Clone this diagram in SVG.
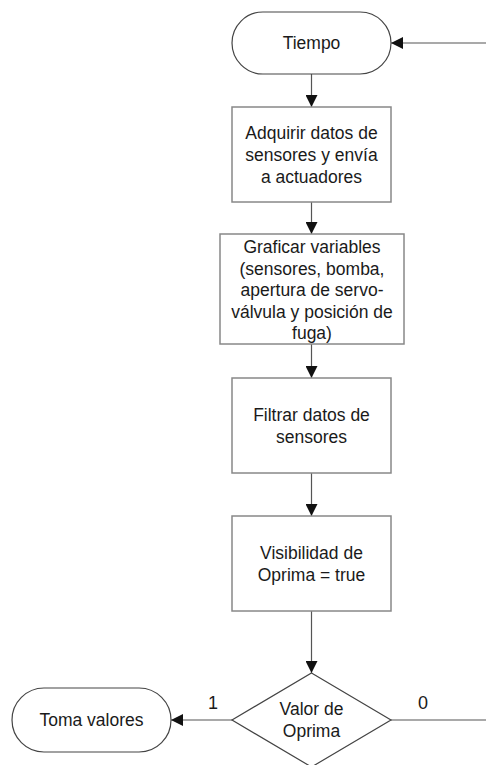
<svg xmlns="http://www.w3.org/2000/svg" width="486" height="765" viewBox="0 0 486 765">
<style>
.term{fill:#fff;stroke:#444;stroke-width:1.2}
.box{fill:#fff;stroke:#888;stroke-width:1.5}
.dia{fill:#fff;stroke:#444;stroke-width:1.2}
.t{font-family:"Liberation Sans",Arial,sans-serif;font-size:17.5px;fill:#1a1a1a;text-anchor:middle;dominant-baseline:central}
.c{fill:none;stroke:#555;stroke-width:1.2}
</style>
<defs>
<marker id="ah" markerWidth="12" markerHeight="12" refX="12" refY="6" orient="auto" markerUnits="userSpaceOnUse">
<path d="M0,0 L12,6 L0,12 Z" fill="#111"/>
</marker>
</defs>
<g id="connectors">
<line class="c" x1="486" y1="43" x2="391" y2="43" marker-end="url(#ah)"/>
<line class="c" x1="311.5" y1="74" x2="311.5" y2="107" marker-end="url(#ah)"/>
<line class="c" x1="311.5" y1="202" x2="311.5" y2="234" marker-end="url(#ah)"/>
<line class="c" x1="311.5" y1="344" x2="311.5" y2="378" marker-end="url(#ah)"/>
<line class="c" x1="311.5" y1="473" x2="311.5" y2="516" marker-end="url(#ah)"/>
<line class="c" x1="311.5" y1="611" x2="311.5" y2="673" marker-end="url(#ah)"/>
<line class="c" x1="232" y1="720" x2="171" y2="720" marker-end="url(#ah)"/>
<line class="c" x1="391" y1="720" x2="486" y2="720"/>
<text class="t" x="213" y="703" style="font-size:18px">1</text>
<text class="t" x="423" y="703" style="font-size:18px">0</text>
</g>
<g id="tiempo">
<rect class="term" x="232" y="12" width="159" height="62" rx="31"/>
<text class="t" x="311.5" y="43">Tiempo</text>
</g>
<g id="adquirir">
<rect class="box" x="232" y="107" width="159" height="95"/>
<text class="t" x="311.5" y="133">Adquirir datos de</text>
<text class="t" x="311.5" y="155">sensores y envía</text>
<text class="t" x="311.5" y="177">a actuadores</text>
</g>
<g id="graficar">
<rect class="box" x="220" y="234" width="184" height="110"/>
<text class="t" x="312" y="247">Graficar variables</text>
<text class="t" x="312" y="268.5">(sensores, bomba,</text>
<text class="t" x="312" y="290">apertura de servo-</text>
<text class="t" x="312" y="311.5">válvula y posición de</text>
<text class="t" x="312" y="333">fuga)</text>
</g>
<g id="filtrar">
<rect class="box" x="232" y="378" width="159" height="95"/>
<text class="t" x="311.5" y="415">Filtrar datos de</text>
<text class="t" x="311.5" y="437">sensores</text>
</g>
<g id="visibilidad">
<rect class="box" x="232" y="516" width="159" height="95"/>
<text class="t" x="311.5" y="553">Visibilidad de</text>
<text class="t" x="311.5" y="575">Oprima = true</text>
</g>
<g id="valor">
<polygon class="dia" points="311.5,673 391,720 311.5,767 232,720"/>
<text class="t" x="311.5" y="709">Valor de</text>
<text class="t" x="311.5" y="731">Oprima</text>
</g>
<g id="toma">
<rect class="term" x="12" y="688" width="159" height="64" rx="32"/>
<text class="t" x="91.5" y="720">Toma valores</text>
</g>
</svg>
